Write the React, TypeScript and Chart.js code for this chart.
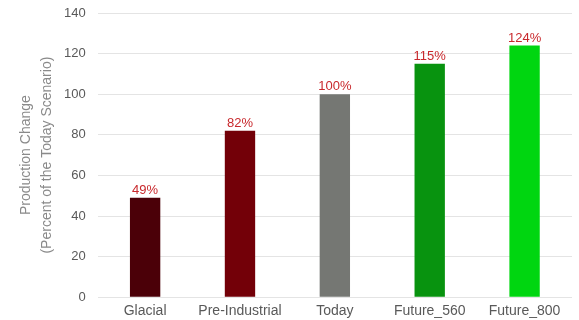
import React, { useEffect, useRef } from "react";
import { Chart, registerables } from "chart.js";

Chart.register(...registerables);

const categories = ["Glacial", "Pre-Industrial", "Today", "Future_560", "Future_800"];
const values = [49, 82, 100, 115, 124];
const valueLabels = ["49%", "82%", "100%", "115%", "124%"];
const barColors = ["#4b0008", "#730008", "#757773", "#08930f", "#00d610"];
const yTitle = ["Production Change", "(Percent of the Today Scenario)"];

const FONT = "'Liberation Sans', Arial, sans-serif";

const labelPlugin = {
  id: "barLabels",
  afterDatasetsDraw(chart: any) {
    const ctx = chart.ctx;
    const meta = chart.getDatasetMeta(0);
    ctx.save();
    ctx.font = `13px ${FONT}`;
    ctx.fillStyle = "#c8282c";
    ctx.textAlign = "center";
    ctx.textBaseline = "bottom";
    meta.data.forEach((bar: any, i: number) => {
      ctx.fillText(valueLabels[i], bar.x, bar.y - 1);
    });
    ctx.restore();
  },
};

export default function App() {
  const ref = useRef<HTMLCanvasElement>(null);
  useEffect(() => {
    if (!ref.current) return;
    const chart = new Chart(ref.current, {
      type: "bar",
      data: {
        labels: categories,
        datasets: [
          {
            data: values,
            backgroundColor: barColors,
            categoryPercentage: 1,
            barPercentage: 0.32,
          },
        ],
      },
      options: {
        animation: false,
        responsive: false,
        maintainAspectRatio: false,
        layout: { padding: { top: 13, right: 7, left: 16, bottom: -6 } },
        plugins: { legend: { display: false }, tooltip: { enabled: false } },
        scales: {
          x: {
            grid: { display: false, drawTicks: false },
            border: { display: false },
            ticks: {
              color: "#595959",
              font: { family: FONT, size: 14 },
              padding: 6,
            },
          },
          y: {
            min: 0,
            max: 140,
            ticks: {
              stepSize: 20,
              color: "#595959",
              font: { family: FONT, size: 13 },
              padding: 4,
            },
            grid: { color: "#e4e4e4", drawTicks: true, tickLength: 8, tickColor: "rgba(0,0,0,0)" },
            border: { display: false },
            title: {
              display: true,
              text: yTitle,
              color: "#8a8a8a",
              font: { family: FONT, size: 14, lineHeight: 1.5 },
              padding: { top: 0, bottom: 2 },
            },
          },
        },
      },
      plugins: [labelPlugin],
    });
    return () => chart.destroy();
  }, []);
  return (
    <div style={{ position: "fixed", left: 0, top: 0, width: 579, height: 320, background: "#fff" }}>
      <canvas ref={ref} width={579} height={320} />
    </div>
  );
}
